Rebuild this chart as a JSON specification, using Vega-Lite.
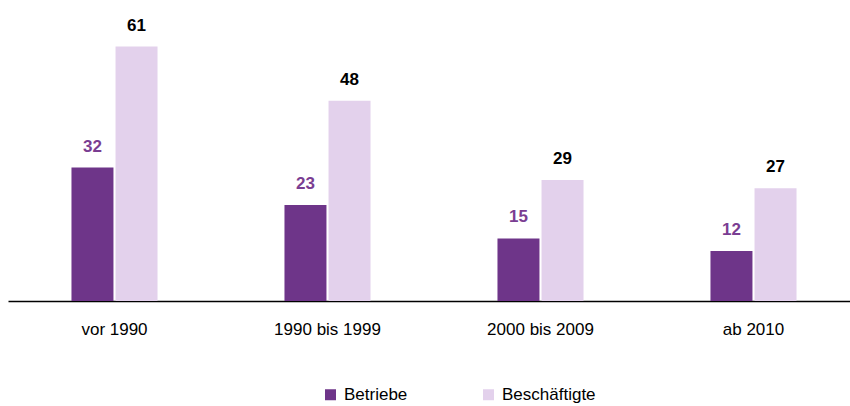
{
  "$schema": "https://vega.github.io/schema/vega-lite/v6.json",
  "width": 852,
  "height": 292,
  "autosize": {"type": "none"},
  "padding": {"left": 8, "top": 9, "right": 0, "bottom": 105},
  "background": "white",
  "config": {"view": {"stroke": null}, "font": "Liberation Sans"},
  "data": {"values": [
    {"period": "vor 1990", "series": "Betriebe", "value": 32},
    {"period": "vor 1990", "series": "Beschäftigte", "value": 61},
    {"period": "1990 bis 1999", "series": "Betriebe", "value": 23},
    {"period": "1990 bis 1999", "series": "Beschäftigte", "value": 48},
    {"period": "2000 bis 2009", "series": "Betriebe", "value": 15},
    {"period": "2000 bis 2009", "series": "Beschäftigte", "value": 29},
    {"period": "ab 2010", "series": "Betriebe", "value": 12},
    {"period": "ab 2010", "series": "Beschäftigte", "value": 27}
  ]},
  "encoding": {
    "x": {"field": "period", "type": "nominal", "sort": null,
      "scale": {"paddingInner": 0.596, "paddingOuter": 0.298},
      "axis": {"title": null, "labelAngle": 0, "ticks": false, "domainColor": "#000000", "domainWidth": 1.5,
        "labelFont": "Liberation Sans", "labelFontSize": 17, "labelColor": "#000000", "labelPadding": 20}},
    "xOffset": {"field": "series", "type": "nominal", "sort": ["Betriebe", "Beschäftigte"],
      "scale": {"paddingInner": 0.047, "paddingOuter": 0}},
    "y": {"field": "value", "type": "quantitative", "scale": {"domain": [0, 70]}, "axis": null}
  },
  "layer": [
    {"mark": {"type": "bar"},
      "encoding": {
        "color": {"field": "series", "type": "nominal", "sort": ["Betriebe", "Beschäftigte"],
          "scale": {"domain": ["Betriebe", "Beschäftigte"], "range": ["#6E3589", "#E3D1EC"]},
          "legend": {"title": null, "orient": "none", "direction": "horizontal", "legendX": 314, "legendY": 377,
            "symbolType": "square", "symbolSize": 121, "symbolStrokeWidth": 0, "labelFontSize": 17, "labelFont": "Liberation Sans",
            "labelColor": "#000000", "labelOffset": 5, "columnPadding": 72}}
      }},
    {"mark": {"type": "text", "baseline": "alphabetic", "dy": -16, "fontWeight": "bold", "fontSize": 17, "font": "Liberation Sans"},
      "encoding": {
        "text": {"field": "value", "type": "quantitative"},
        "color": {"field": "series", "type": "nominal", "scale": {"domain": ["Betriebe", "Beschäftigte"], "range": ["#7A3D92", "#000000"]}, "legend": null}
      }}
  ],
  "resolve": {"scale": {"color": "independent"}}
}
